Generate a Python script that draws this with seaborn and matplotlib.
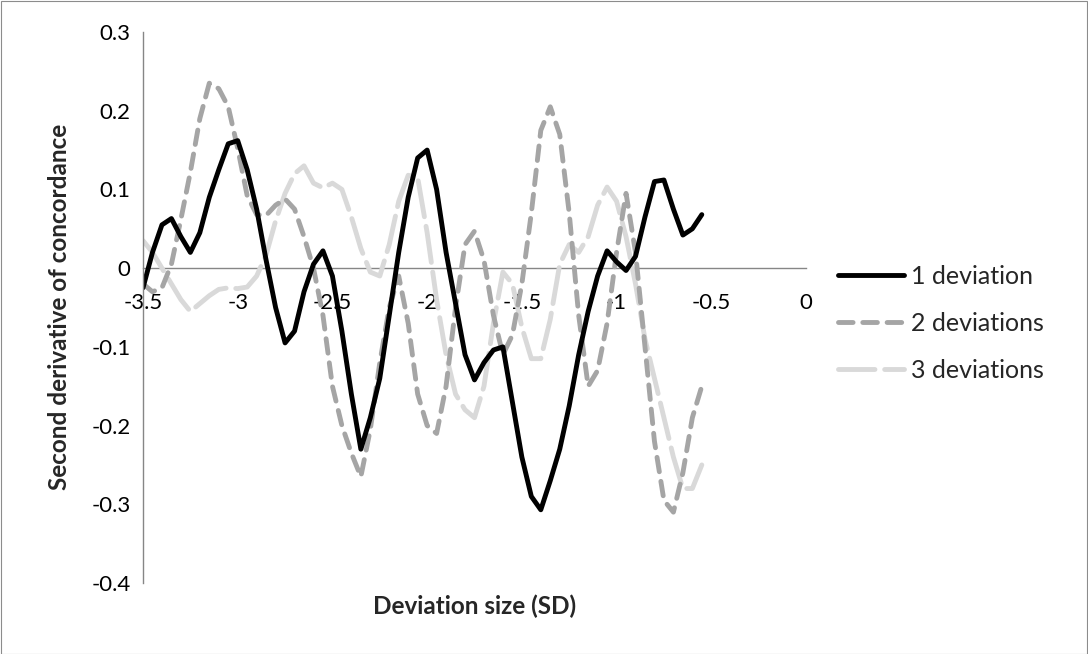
import numpy as np
import pandas as pd
import matplotlib
matplotlib.use("Agg")
import matplotlib.pyplot as plt
import seaborn as sns
from matplotlib.patches import Rectangle
from matplotlib.lines import Line2D

# ---- data ----
x_vals = [-3.5, -3.45, -3.4, -3.35, -3.3, -3.25, -3.2, -3.15, -3.1, -3.05,
          -3.0, -2.95, -2.9, -2.85, -2.8, -2.75, -2.7, -2.65, -2.6, -2.55,
          -2.5, -2.45, -2.4, -2.35, -2.3, -2.25, -2.2, -2.15, -2.1, -2.05,
          -2.0, -1.95, -1.9, -1.85, -1.8, -1.75, -1.7, -1.65, -1.6, -1.55,
          -1.5, -1.45, -1.4, -1.35, -1.3, -1.25, -1.2, -1.15, -1.1, -1.05,
          -1.0, -0.95, -0.9, -0.85, -0.8, -0.75, -0.7, -0.65, -0.6, -0.55]

dev1 = [-0.025, 0.02, 0.055, 0.063, 0.04, 0.02, 0.045, 0.09, 0.125, 0.158,
        0.162, 0.125, 0.075, 0.01, -0.05, -0.095, -0.08, -0.03, 0.005, 0.022,
        -0.01, -0.08, -0.16, -0.23, -0.19, -0.14, -0.06, 0.02, 0.09, 0.14,
        0.15, 0.1, 0.02, -0.045, -0.11, -0.142, -0.12, -0.104, -0.1, -0.17,
        -0.24, -0.29, -0.307, -0.27, -0.23, -0.175, -0.11, -0.055, -0.01, 0.022,
        0.008, -0.003, 0.015, 0.065, 0.11, 0.112, 0.075, 0.042, 0.05, 0.068]

dev2 = [-0.02, -0.03, -0.025, 0.005, 0.062, 0.122, 0.19, 0.235, 0.228, 0.205,
        0.152, 0.092, 0.068, 0.067, 0.08, 0.088, 0.075, 0.04, 0.0, -0.06,
        -0.15, -0.2, -0.235, -0.265, -0.205, -0.12, -0.05, -0.01, -0.07, -0.16,
        -0.2, -0.21, -0.15, -0.05, 0.03, 0.047, 0.01, -0.06, -0.11, -0.085,
        -0.02, 0.07, 0.175, 0.205, 0.17, 0.07, -0.06, -0.15, -0.13, -0.07,
        0.02, 0.095, 0.02, -0.1, -0.22, -0.295, -0.31, -0.26, -0.19, -0.15]

dev3 = [0.035, 0.02, 0.0, -0.02, -0.04, -0.055, -0.045, -0.035, -0.027, -0.025,
        -0.026, -0.024, -0.01, 0.017, 0.06, 0.095, 0.12, 0.13, 0.108, 0.102,
        0.108, 0.1, 0.065, 0.025, -0.005, -0.01, 0.03, 0.085, 0.118, 0.115,
        0.045, -0.04, -0.11, -0.16, -0.18, -0.19, -0.15, -0.07, -0.005, -0.02,
        -0.075, -0.115, -0.115, -0.065, 0.005, 0.03, 0.02, 0.04, 0.08, 0.103,
        0.085, 0.04, -0.02, -0.09, -0.14, -0.19, -0.24, -0.28, -0.28, -0.25]

series_names = ["1 deviation", "2 deviations", "3 deviations"]
x_ticks = [-3.5, -3, -2.5, -2, -1.5, -1, -0.5, 0]
x_tick_labels = ["-3.5", "-3", "-2.5", "-2", "-1.5", "-1", "-0.5", "0"]
y_ticks = [-0.4, -0.3, -0.2, -0.1, 0, 0.1, 0.2, 0.3]
y_tick_labels = ["-0.4", "-0.3", "-0.2", "-0.1", "0", "0.1", "0.2", "0.3"]

df = pd.DataFrame({
    "x": x_vals * 3,
    "y": dev1 + dev2 + dev3,
    "series": sum([[n] * len(x_vals) for n in series_names], []),
})

sns.set_theme(style="white")
plt.rcParams["font.family"] = ["Lato", "DejaVu Sans"]
plt.rcParams["lines.dash_capstyle"] = "round"
plt.rcParams["lines.solid_capstyle"] = "round"
plt.rcParams["lines.solid_joinstyle"] = "round"
plt.rcParams["lines.dash_joinstyle"] = "round"

W, H = 1088, 654
fig = plt.figure(figsize=(W / 100, H / 100), dpi=100)
fig.patch.set_facecolor("white")
fig.patches.append(Rectangle((0.5 / W, 0.5 / H), 1 - 1.5 / W, 1 - 1.5 / H,
                             transform=fig.transFigure, fill=False,
                             edgecolor="#8c8c8c", linewidth=0.8))

left, right, top, bottom = 143, 806, 32, 583
ax = fig.add_axes([left / W, (H - bottom) / H, (right - left) / W, (bottom - top) / H])

palette = {"1 deviation": "#000000", "2 deviations": "#a5a5a5", "3 deviations": "#d9d9d9"}
dashes = {"1 deviation": "", "2 deviations": (3.0, 2.0), "3 deviations": (7.5, 2.0)}
LW = 3.5

sns.lineplot(data=df, x="x", y="y", hue="series", style="series",
             palette=palette, dashes=dashes, linewidth=LW,
             hue_order=series_names[::-1], style_order=series_names[::-1],
             sort=False, legend=False, ax=ax)

ax.set_xlim(-3.5, 0)
ax.set_ylim(-0.4, 0.3)
ax.set_xticks(x_ticks)
ax.set_xticklabels(x_tick_labels)
ax.set_yticks(y_ticks)
ax.set_yticklabels(y_tick_labels)

for s in ["top", "right"]:
    ax.spines[s].set_visible(False)
ax.spines["bottom"].set_position(("data", 0))
for s in ["bottom", "left"]:
    ax.spines[s].set_color("#868686")
    ax.spines[s].set_linewidth(1.0)
ax.spines["bottom"].set_zorder(0.5)
ax.tick_params(axis="both", which="both", direction="out", length=4, width=1.0,
               color="#868686", labelsize=16, labelcolor="#000000")
ax.tick_params(axis="x", pad=14)
ax.tick_params(axis="y", pad=5)
ax.grid(False)

ax.set_xlabel("")
ax.set_ylabel("")
fig.text(475 / W, 1 - 606 / H, "Deviation size (SD)", ha="center", va="center",
         fontsize=17.5, fontweight="bold")
fig.text(60 / W, 1 - 307 / H, "Second derivative of concordance", ha="center",
         va="center", rotation=90, fontsize=17.5, fontweight="bold")

handles = []
for n in series_names:
    h = Line2D([0], [0], color=palette[n], lw=LW, linestyle="-")
    if dashes[n]:
        h.set_dashes(dashes[n])
    handles.append(h)
leg = fig.legend(handles, series_names, loc="upper left",
                 bbox_to_anchor=(838 / W, 1 - 265 / H), frameon=False,
                 fontsize=18, handlelength=2.65, handletextpad=0.28,
                 labelspacing=0.96, borderaxespad=0, borderpad=0)

fig.savefig("out.png", dpi=100)
